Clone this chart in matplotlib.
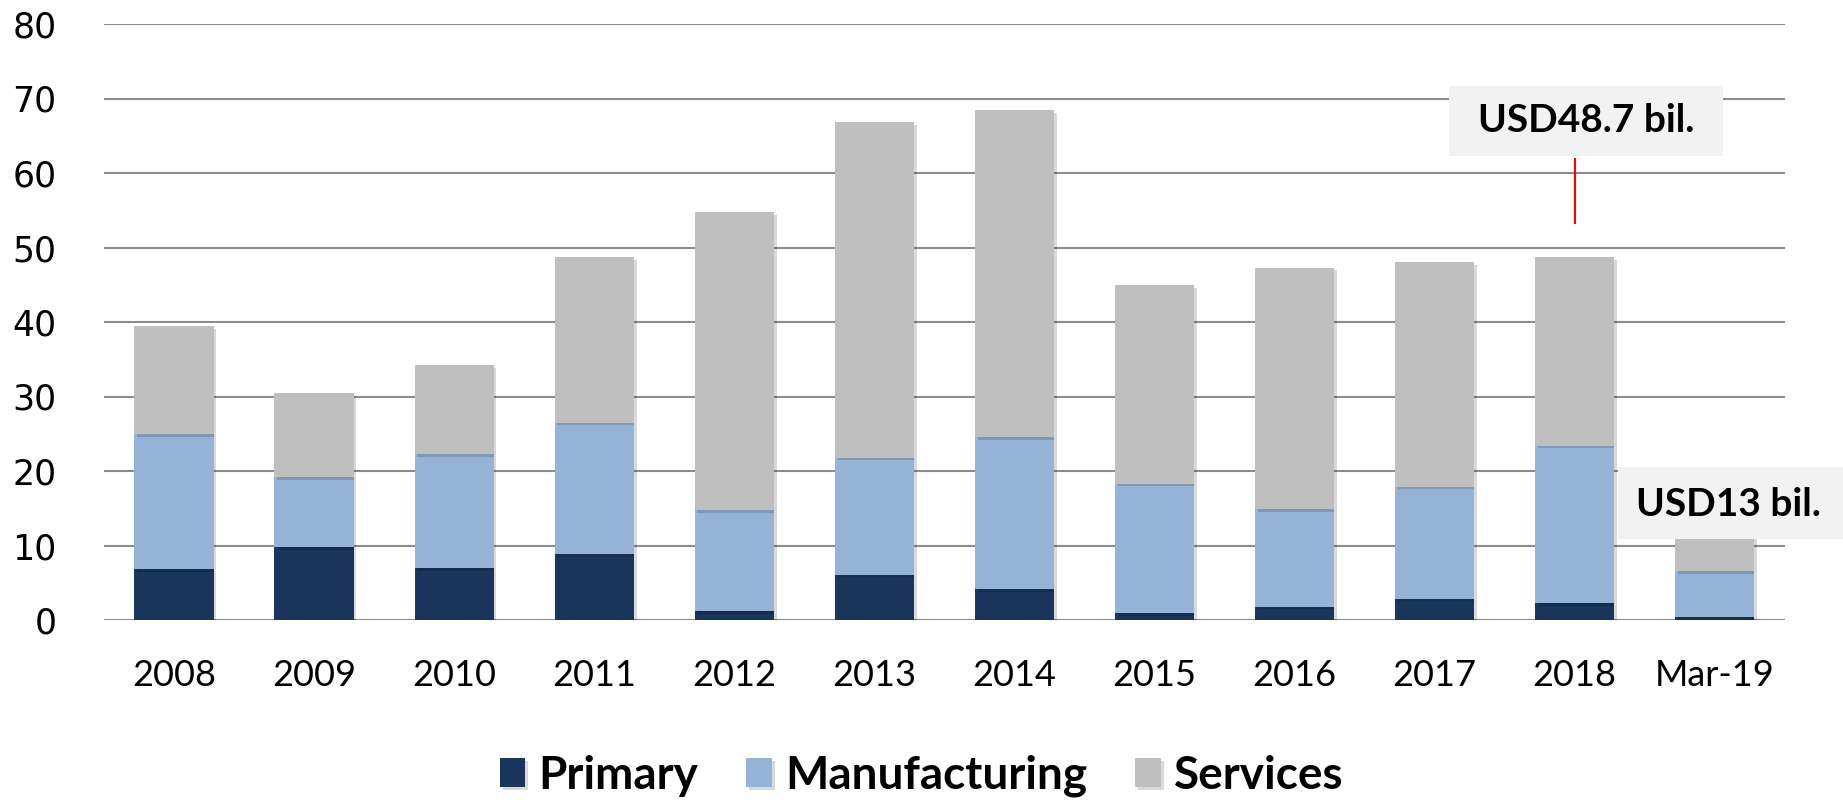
import numpy as np
import matplotlib
matplotlib.use("Agg")
import matplotlib.pyplot as plt
from matplotlib.patches import Rectangle
import matplotlib.patheffects as pe

# Data (USD bil.)
categories = ["2008", "2009", "2010", "2011", "2012", "2013",
              "2014", "2015", "2016", "2017", "2018", "Mar-19"]
primary = [6.8, 9.8, 7.0, 8.8, 1.2, 6.0, 4.1, 0.9, 1.8, 2.8, 2.3, 0.4]
manufacturing = [18.2, 9.4, 15.3, 17.7, 13.5, 15.8, 20.5, 17.4, 13.1, 15.1, 21.1, 6.2]
services = [14.5, 11.3, 11.9, 22.2, 40.1, 45.0, 43.8, 26.6, 32.4, 30.1, 25.3, 6.4]
series_names = ["Primary", "Manufacturing", "Services"]
colors = ["#1A365D", "#95B3D7", "#BFBFBF"]
y_ticks = [0, 10, 20, 30, 40, 50, 60, 70, 80]


def main():
    fig = plt.figure(figsize=(18.43, 8), dpi=100)
    ax = fig.add_axes([0.0564, 0.225, 0.912, 0.745])

    x = np.arange(len(categories))
    bottom = np.zeros(len(categories))
    shadow = [pe.SimplePatchShadow(offset=(2, -2), shadow_rgbFace="#000000", alpha=0.15), pe.Normal()]
    handles = []
    for name, vals, col in zip(series_names, [primary, manufacturing, services], colors):
        bars = ax.bar(x, vals, width=0.565, bottom=bottom, color=col, label=name,
                      zorder=3, path_effects=shadow)
        handles.append(bars)
        bottom = bottom + np.array(vals)

    ax.set_xlim(-0.5, 11.5)
    ax.set_ylim(0, 80)
    ax.set_yticks(y_ticks)
    ax.set_xticks(x)
    ax.set_xticklabels(categories, fontsize=26, fontfamily="Lato")
    for lbl in ax.get_yticklabels():
        lbl.set_fontsize(25)
        lbl.set_fontfamily("DejaVu Sans")
    ax.tick_params(axis="x", length=0, pad=28)
    ax.tick_params(axis="y", length=0, pad=34)
    for s in ax.spines.values():
        s.set_visible(False)
    ax.grid(True, axis="y", color="#8C8C8C", linewidth=1.5, zorder=0)
    ax.set_axisbelow(True)

    # annotation for 2018
    ax.add_patch(Rectangle((9.10, 62.3), 1.96, 9.4, facecolor="#F2F2F2",
                           edgecolor="none", zorder=5, clip_on=False))
    ax.text(10.08, 67.0, "USD48.7 bil.", ha="center", va="center", fontsize=28,
            fontweight="bold", fontfamily="Lato", zorder=6)
    ax.plot([10.0, 10.0], [53.3, 61.9], color="red", linewidth=1.5, zorder=4)

    # annotation for Mar-19
    ax.add_patch(Rectangle((10.31, 10.9), 1.62, 9.6, facecolor="#F2F2F2",
                           edgecolor="none", zorder=5, clip_on=False))
    ax.text(11.1, 15.5, "USD13 bil.", ha="center", va="center", fontsize=28,
            fontweight="bold", fontfamily="Lato", zorder=6, clip_on=False)

    fig.legend(handles, series_names, loc="center", bbox_to_anchor=(0.5, 0.03),
               ncol=3, frameon=False, prop={"family": "Lato", "weight": "bold", "size": 33},
               handlelength=0.56, handleheight=0.6, handletextpad=0.28, columnspacing=1.05)

    fig.savefig("out.png", dpi=100)


if __name__ == "__main__":
    main()
